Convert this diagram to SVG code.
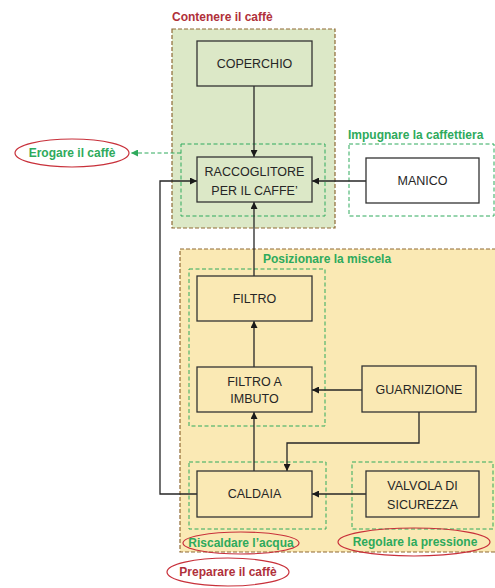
<svg xmlns="http://www.w3.org/2000/svg" width="495" height="588" viewBox="0 0 495 588">
  <defs>
    <marker id="arr" viewBox="0 0 10 10" refX="10" refY="5" markerWidth="7" markerHeight="7" orient="auto-start-reverse" markerUnits="userSpaceOnUse">
      <path d="M0,0 L10,5 L0,10 z" fill="#1a1a1a"/>
    </marker>
    <marker id="arrg" viewBox="0 0 10 10" refX="10" refY="5" markerWidth="7" markerHeight="7" orient="auto" markerUnits="userSpaceOnUse">
      <path d="M0,0 L10,5 L0,10 z" fill="#2eaa5c"/>
    </marker>
  </defs>
  <style>
    .area { stroke: #8f6a35; stroke-width: 1.2; stroke-dasharray: 4 2; }
    .fn { fill: none; stroke: #2eaa5c; stroke-width: 1; stroke-dasharray: 4 2.5; }
    .box { stroke: #333; stroke-width: 1.3; }
    .lbl { font-family: "Liberation Sans", Arial, sans-serif; font-size: 12.5px; fill: #262626; text-anchor: middle; }
    .gt { font-family: "Liberation Sans", Arial, sans-serif; font-size: 12px; font-weight: bold; fill: #2eaa5c; }
    .rt { font-family: "Liberation Sans", Arial, sans-serif; font-size: 12px; font-weight: bold; fill: #b0303a; }
    .oval { fill: none; stroke: #c8303a; stroke-width: 1.2; }
    .wire { fill: none; stroke: #262626; stroke-width: 1.3; }
  </style>
  <rect width="495" height="588" fill="#fff"/>

  <!-- Containers -->
  <g id="contenere">
    <rect class="area" x="172" y="29" width="163" height="199" fill="#dce8c7"/>
    <text class="rt" x="172" y="21">Contenere il caffè</text>
  </g>
  <g id="preparare">
    <rect class="area" x="180" y="249" width="318" height="303" fill="#fae9b4"/>
    <ellipse class="oval" cx="228" cy="572" rx="61" ry="14"/>
    <text class="rt" x="228" y="576" text-anchor="middle">Preparare il caffè</text>
  </g>

  <!-- Function groups -->
  <g id="fn-erogare">
    <rect class="fn" x="181" y="144" width="144" height="72"/>
  </g>
  <g id="fn-impugnare">
    <rect class="fn" x="349" y="144" width="145" height="72"/>
    <text class="gt" x="348" y="139">Impugnare la caffettiera</text>
  </g>
  <g id="fn-posizionare">
    <rect class="fn" x="189" y="269" width="136" height="157"/>
    <text class="gt" x="263" y="263">Posizionare la miscela</text>
  </g>
  <g id="fn-riscaldare">
    <rect class="fn" x="189" y="462" width="137" height="67"/>
    <ellipse class="oval" cx="241" cy="543" rx="58" ry="11"/>
    <text class="gt" x="241" y="547" text-anchor="middle">Riscaldare l’acqua</text>
  </g>
  <g id="fn-regolare">
    <rect class="fn" x="352" y="462" width="141" height="67"/>
    <ellipse class="oval" cx="414" cy="542" rx="76" ry="14"/>
    <text class="gt" x="415" y="546" text-anchor="middle">Regolare la pressione</text>
  </g>
  <g id="erogare">
    <ellipse class="oval" cx="72" cy="153" rx="57" ry="14"/>
    <text class="gt" x="72" y="157" text-anchor="middle">Erogare il caffè</text>
  </g>

  <!-- Connectors -->
  <g id="connectors">
    <line x1="181" y1="153" x2="131" y2="153" stroke="#2eaa5c" stroke-width="1" stroke-dasharray="4 2.5" marker-end="url(#arrg)"/>
    <line class="wire" x1="254" y1="86" x2="254" y2="157" marker-end="url(#arr)"/>
    <line class="wire" x1="366" y1="181" x2="312" y2="181" marker-end="url(#arr)"/>
    <line class="wire" x1="254" y1="276" x2="254" y2="202" marker-end="url(#arr)"/>
    <line class="wire" x1="254" y1="367" x2="254" y2="321" marker-end="url(#arr)"/>
    <line class="wire" x1="362" y1="390" x2="312" y2="390" marker-end="url(#arr)"/>
    <line class="wire" x1="254" y1="471" x2="254" y2="412" marker-end="url(#arr)"/>
    <polyline class="wire" points="419,412 419,443 287,443 287,471" marker-end="url(#arr)"/>
    <line class="wire" x1="366" y1="494" x2="312" y2="494" marker-end="url(#arr)"/>
    <polyline class="wire" points="197,494 160,494 160,181 197,181" marker-end="url(#arr)"/>
  </g>

  <!-- Components -->
  <g id="coperchio">
    <rect class="box" x="197" y="41" width="115" height="45" fill="#dce8c7"/>
    <text class="lbl" x="254.5" y="68">COPERCHIO</text>
  </g>
  <g id="raccoglitore">
    <rect class="box" x="197" y="157" width="115" height="45" fill="#dce8c7"/>
    <text class="lbl" x="254.5" y="176">RACCOGLITORE</text>
    <text class="lbl" x="254.5" y="195">PER IL CAFFE’</text>
  </g>
  <g id="manico">
    <rect class="box" x="366" y="158" width="113" height="45" fill="#fff"/>
    <text class="lbl" x="422.5" y="185">MANICO</text>
  </g>
  <g id="filtro">
    <rect class="box" x="197" y="276" width="115" height="45" fill="#fae9b4"/>
    <text class="lbl" x="254.5" y="303">FILTRO</text>
  </g>
  <g id="filtro-imbuto">
    <rect class="box" x="197" y="367" width="115" height="45" fill="#fae9b4"/>
    <text class="lbl" x="254.5" y="386">FILTRO A</text>
    <text class="lbl" x="254.5" y="403">IMBUTO</text>
  </g>
  <g id="guarnizione">
    <rect class="box" x="362" y="366" width="114" height="46" fill="#fae9b4"/>
    <text class="lbl" x="419" y="394">GUARNIZIONE</text>
  </g>
  <g id="caldaia">
    <rect class="box" x="197" y="471" width="115" height="46" fill="#fae9b4"/>
    <text class="lbl" x="254.5" y="498">CALDAIA</text>
  </g>
  <g id="valvola">
    <rect class="box" x="366" y="471" width="113" height="46" fill="#fae9b4"/>
    <text class="lbl" x="422.5" y="490">VALVOLA DI</text>
    <text class="lbl" x="422.5" y="509">SICUREZZA</text>
  </g>
</svg>
